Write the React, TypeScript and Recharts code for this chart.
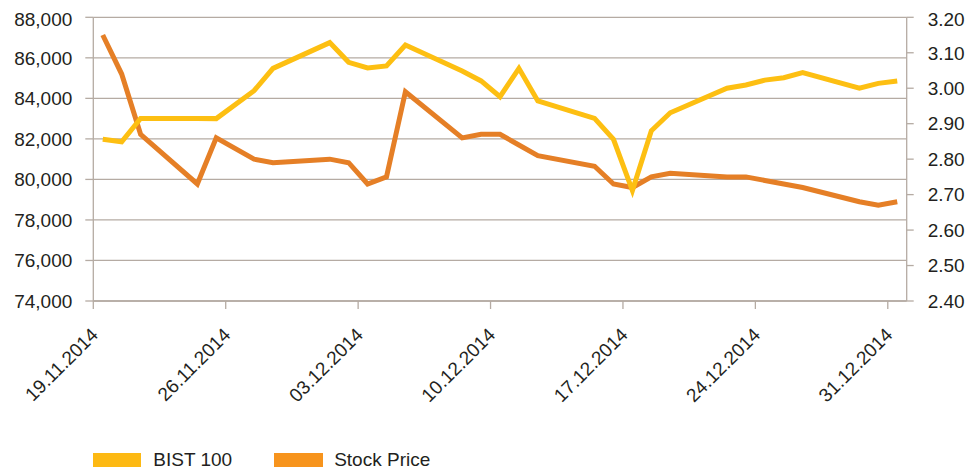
import { LineChart, Line, XAxis, YAxis, CartesianGrid } from "recharts";

const dates = [
  "19.11.2014", "20.11.2014", "21.11.2014", "24.11.2014", "25.11.2014",
  "27.11.2014", "28.11.2014", "01.12.2014", "02.12.2014", "03.12.2014",
  "04.12.2014", "05.12.2014", "08.12.2014", "09.12.2014", "10.12.2014",
  "11.12.2014", "12.12.2014", "15.12.2014", "16.12.2014", "17.12.2014",
  "18.12.2014", "19.12.2014", "22.12.2014", "23.12.2014", "24.12.2014",
  "25.12.2014", "26.12.2014", "29.12.2014", "30.12.2014", "31.12.2014",
];

const bist100 = [
  81980, 81860, 83010, 83010, 83000, 84380, 85480, 86750, 85780, 85500,
  85600, 86630, 85350, 84860, 84080, 85480, 83870, 83010, 81980, 79450,
  82400, 83290, 84500, 84660, 84900, 85020, 85270, 84500, 84740, 84860,
];

const stockPrice = [
  3.15, 3.04, 2.87, 2.73, 2.86, 2.8, 2.79, 2.8, 2.79, 2.73,
  2.75, 2.99, 2.86, 2.87, 2.87, 2.84, 2.81, 2.78, 2.73, 2.72,
  2.75, 2.76, 2.75, 2.75, 2.74, 2.73, 2.72, 2.68, 2.67, 2.68,
];

const tickLabels = [
  "19.11.2014", "26.11.2014", "03.12.2014", "10.12.2014",
  "17.12.2014", "24.12.2014", "31.12.2014",
];

const leftTicks = [74000, 76000, 78000, 80000, 82000, 84000, 86000, 88000];
const rightTicks = [2.4, 2.5, 2.6, 2.7, 2.8, 2.9, 3.0, 3.1, 3.2];

const YELLOW = "#FDBF12";
const ORANGE = "#E57F26";
const GRID = "#B5ABA3";
const TEXT = "#231F20";
const FONT = "'Liberation Sans', Arial, Helvetica, sans-serif";

// days since the first date; a point sits in the middle of its day
const dayOf = (s: string) => {
  const [d, m, y] = s.split(".").map(Number);
  return (Date.UTC(y, m - 1, d) - Date.UTC(2014, 10, 19)) / 86400000;
};

const data = dates.map((d, i) => ({
  x: dayOf(d) + 0.5,
  bist: bist100[i],
  stock: stockPrice[i],
}));

const xTicks = tickLabels.map(dayOf);

const DateTick = (props: any) => {
  const { x, y, payload } = props;
  const px = x + 6;
  const py = y + 25;
  return (
    <text
      x={px}
      y={py}
      textAnchor="end"
      transform={`rotate(-45, ${px}, ${py})`}
      fill={TEXT}
      fontSize={19}
      fontFamily={FONT}
    >
      {tickLabels[xTicks.indexOf(payload.value)]}
    </text>
  );
};

export default function App() {
  return (
    <div style={{ position: "relative", width: 958, height: 459, fontFamily: FONT }}>
      <LineChart
        width={958}
        height={459}
        data={data}
        margin={{ top: 9.3, right: 0, left: 0, bottom: 0 }}
      >
        <CartesianGrid yAxisId="left" vertical={false} stroke={GRID} strokeWidth={1.3} />
        <XAxis
          dataKey="x"
          type="number"
          domain={[0, 43]}
          ticks={xTicks}
          height={166}
          interval={0}
          stroke={GRID}
          strokeWidth={1.3}
          tickSize={8}
          tick={<DateTick />}
        />
        <YAxis
          yAxisId="left"
          orientation="left"
          domain={[74000, 88000]}
          ticks={leftTicks}
          width={85.3}
          stroke={GRID}
          strokeWidth={1.3}
          tickSize={8}
          tickMargin={13}
          tickFormatter={(v: number) => v.toLocaleString("en-US")}
          tick={{ fill: TEXT, fontSize: 19, fontFamily: FONT }}
        />
        <YAxis
          yAxisId="right"
          orientation="right"
          domain={[2.4, 3.2]}
          ticks={rightTicks}
          width={59.3}
          stroke={GRID}
          strokeWidth={1.3}
          tickSize={7}
          tickMargin={14}
          tickFormatter={(v: number) => v.toFixed(2)}
          tick={{ fill: TEXT, fontSize: 19, fontFamily: FONT }}
        />
        <Line
          yAxisId="right"
          dataKey="stock"
          type="linear"
          stroke={ORANGE}
          strokeWidth={5}
          dot={false}
          activeDot={false}
          isAnimationActive={false}
        />
        <Line
          yAxisId="left"
          dataKey="bist"
          type="linear"
          stroke={YELLOW}
          strokeWidth={5}
          dot={false}
          activeDot={false}
          isAnimationActive={false}
        />
      </LineChart>
      <div
        style={{
          position: "absolute",
          left: 85.3,
          top: 444.7,
          display: "flex",
          alignItems: "center",
          fontSize: 19,
          color: TEXT,
          lineHeight: "14px",
        }}
      >
        <span style={{ width: 48, height: 14, background: "#FDB913", marginRight: 12 }} />
        <span style={{ marginRight: 42 }}>BIST 100</span>
        <span style={{ width: 49, height: 14, background: "#F7941D", marginRight: 11 }} />
        <span>Stock Price</span>
      </div>
    </div>
  );
}
